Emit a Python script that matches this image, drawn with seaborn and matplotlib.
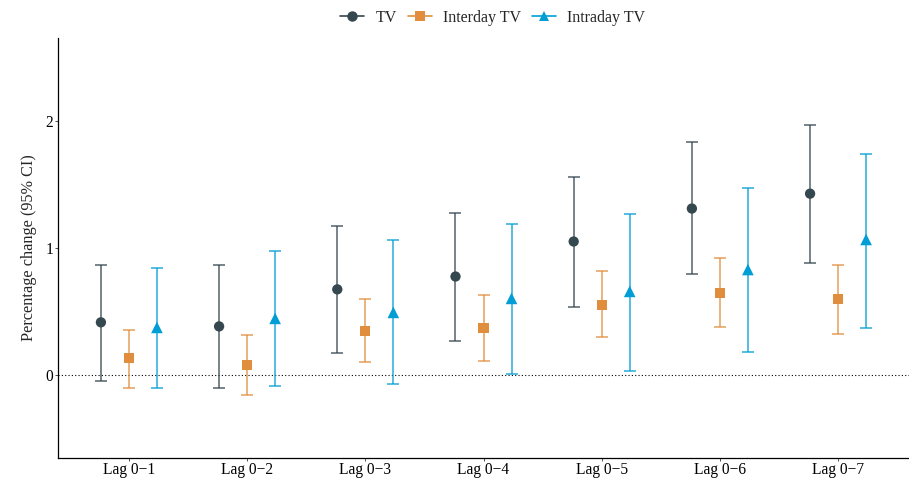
import numpy as np
import pandas as pd
import matplotlib
matplotlib.use("Agg")
import matplotlib.pyplot as plt
import seaborn as sns
from matplotlib.lines import Line2D

lags = ["Lag 0\u22121", "Lag 0\u22122", "Lag 0\u22123", "Lag 0\u22124", "Lag 0\u22125", "Lag 0\u22126", "Lag 0\u22127"]
series = ["TV", "Interday TV", "Intraday TV"]

tv_est = [0.416, 0.384, 0.675, 0.776, 1.051, 1.310, 1.427]
tv_lo = [-0.047, -0.100, 0.173, 0.267, 0.533, 0.792, 0.886]
tv_hi = [0.863, 0.870, 1.176, 1.278, 1.561, 1.835, 1.965]

inter_est = [0.133, 0.078, 0.345, 0.369, 0.549, 0.643, 0.596]
inter_lo = [-0.100, -0.157, 0.102, 0.110, 0.298, 0.376, 0.322]
inter_hi = [0.353, 0.314, 0.596, 0.627, 0.816, 0.918, 0.863]

intra_est = [0.376, 0.447, 0.494, 0.604, 0.659, 0.831, 1.067]
intra_lo = [-0.100, -0.086, -0.070, 0.008, 0.031, 0.180, 0.370]
intra_hi = [0.840, 0.973, 1.059, 1.192, 1.270, 1.475, 1.741]

colors = {"TV": "#35474F", "Interday TV": "#E08E3E", "Intraday TV": "#009ED4"}
markers = {"TV": "o", "Interday TV": "s", "Intraday TV": "^"}
msizes = {"TV": 55, "Interday TV": 52, "Intraday TV": 70}

rows = []
for s, est, lo, hi in [("TV", tv_est, tv_lo, tv_hi),
                       ("Interday TV", inter_est, inter_lo, inter_hi),
                       ("Intraday TV", intra_est, intra_lo, intra_hi)]:
    for i, lag in enumerate(lags):
        rows.append(dict(lag=lag, series=s, est=est[i], lo=lo[i], hi=hi[i]))
df = pd.DataFrame(rows)

sns.set_style("ticks")
plt.rcParams["font.family"] = ["Liberation Serif", "DejaVu Serif"]

fig = plt.figure(figsize=(9.09, 4.79), dpi=100)
ax = fig.add_axes([58 / 909, 21 / 479, 851 / 909, 420 / 479])

offsets = {"TV": -0.237, "Interday TV": 0.0, "Intraday TV": 0.237}
df["x"] = df["lag"].map({l: i for i, l in enumerate(lags)}) + df["series"].map(offsets)

for s in series:
    d = df[df["series"] == s]
    ax.errorbar(d["x"], d["est"], yerr=[d["est"] - d["lo"], d["hi"] - d["est"]],
                fmt="none", ecolor=colors[s], elinewidth=1.1, capsize=4.6, capthick=1.1,
                alpha=0.85, zorder=2)
    sns.scatterplot(data=d, x="x", y="est", color=colors[s], marker=markers[s],
                    s=msizes[s], edgecolor="none", legend=False, ax=ax, zorder=3)

ax.axhline(0, color="black", linestyle=(0, (1, 2)), linewidth=0.8, zorder=1)

ax.set_xlim(-0.6, 6.6)
ax.set_ylim(-0.65, 2.65)
ax.set_xticks(range(len(lags)))
ax.set_xticklabels(lags)
ax.set_yticks([0, 1, 2])
ax.set_yticklabels(["0", "1", "2"])
ax.tick_params(axis="both", labelsize=11.2, length=2, width=0.6, pad=1.2,
               colors="#333333", labelcolor="black")
ax.set_xlabel("")
ax.set_ylabel("Percentage change (95% CI)", fontsize=11.7, labelpad=6)
sns.despine(ax=ax)
for sp in ["left", "bottom"]:
    ax.spines[sp].set_linewidth(0.9)
    ax.spines[sp].set_color("black")

handles = [Line2D([0], [0], color=colors[s], marker=markers[s], markersize=7.5,
                  linewidth=1.2, markeredgewidth=0) for s in series]
fig.legend(handles, series, loc="center", bbox_to_anchor=(0.542, 0.963), ncol=3,
           frameon=False, fontsize=11.5, handlelength=1.5, columnspacing=0.7, handletextpad=0.7)

fig.savefig("out.png", dpi=100)
